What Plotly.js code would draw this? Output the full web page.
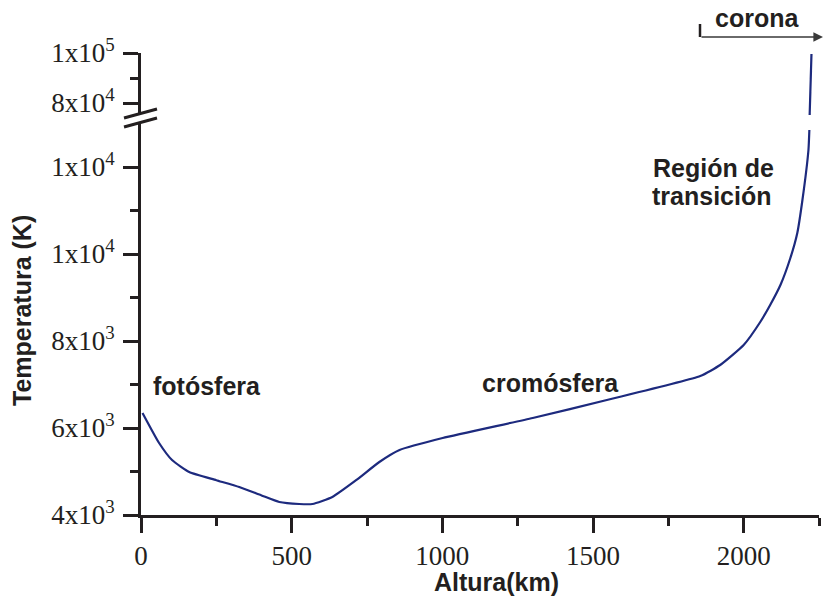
<!DOCTYPE html>
<html>
<head>
<meta charset="utf-8">
<script src="https://cdn.plot.ly/plotly-3.0.1.min.js"></script>
<style>
  html, body { margin: 0; padding: 0; background: #ffffff; }
  #chart { width: 825px; height: 598px; }
</style>
</head>
<body>
<div id="chart"></div>
<script>
// Temperature profile of the solar atmosphere vs height (km)
// Lower part of the curve (photosphere, chromosphere, start of transition region)
const alturaBaja = [5, 60, 103, 160, 250, 326, 400, 459, 525, 569, 635, 715, 791, 858, 1001, 1300, 1546, 1856, 1922, 2000, 2055, 2088, 2122, 2155, 2178, 2195, 2215, 2218];
const tempBaja   = [6345, 5655, 5264, 4989, 4800, 4644, 4450, 4299, 4253, 4253, 4414, 4805, 5218, 5494, 5770, 6230, 6644, 7195, 7448, 7908, 8437, 8828, 9287, 9908, 10483, 11241, 12391, 12851];

// Upper part of the curve, above the axis break (corona side)
const alturaAlta = [2219, 2221, 2225];
const tempAlta   = [75200, 87200, 99600];

// Axis ticks
const xTicks = [0, 500, 1000, 1500, 2000];
const xTickText = ['0', '500', '1000', '1500', '2000'];
const yTicksBaja = [4000, 6000, 8000, 10000, 12000];
const yTickTextBaja = ['4x10<sup>3</sup>', '6x10<sup>3</sup>', '8x10<sup>3</sup>', '1x10<sup>4</sup>', '1x10<sup>4</sup>'];
const yMinorBaja = [5000, 7000, 9000, 11000];
const yTicksAlta = [80000, 100000];
const yTickTextAlta = ['8x10<sup>4</sup>', '1x10<sup>5</sup>'];
const yMinorAlta = [90000];

// Labels
const etiquetaX = 'Altura(km)';
const etiquetaY = 'Temperatura (K)';
const regiones = ['fotósfera', 'cromósfera', 'Región de', 'transición', 'corona'];

// Plot-area geometry in pixels
const W = 825, H = 598;
const L = 141, R = 819, T = 53, B = 515;
const px = x => (x - L) / (R - L);
const py = y => (B - y) / (B - T);

const ink = '#231f20';
const curveColor = '#1d2a7e';
const serif = '"Liberation Serif", "Times New Roman", serif';
const sans = '"Liberation Sans", Arial, sans-serif';

const traces = [
  { x: alturaBaja, y: tempBaja, xaxis: 'x', yaxis: 'y', mode: 'lines',
    line: { color: curveColor, width: 2.2, shape: 'spline', smoothing: 0.5 }, hoverinfo: 'skip' },
  { x: alturaAlta, y: tempAlta, xaxis: 'x', yaxis: 'y2', mode: 'lines',
    line: { color: curveColor, width: 2.2 }, hoverinfo: 'skip' }
];

const axisCommon = {
  showgrid: false, zeroline: false,
  showline: true, linecolor: ink, linewidth: 3,
  ticks: 'outside', ticklen: 15, tickwidth: 3, tickcolor: ink,
  tickfont: { family: serif, size: 27, color: ink }
};

const layout = {
  width: W, height: H,
  margin: { l: L, r: W - R, t: T, b: H - B, pad: 0 },
  paper_bgcolor: '#ffffff', plot_bgcolor: '#ffffff',
  showlegend: false,
  xaxis: Object.assign({}, axisCommon, {
    range: [0, 2250], anchor: 'y',
    tickmode: 'array', tickvals: xTicks, ticktext: xTickText,
    ticklabelstandoff: 0,
    minor: { dtick: 250, tick0: 0, ticks: 'outside', ticklen: 8, tickwidth: 3, tickcolor: ink }
  }),
  yaxis: Object.assign({}, axisCommon, {
    range: [4000, 13000], domain: [0, py(123.5)], anchor: 'x',
    tickmode: 'array', tickvals: yTicksBaja, ticktext: yTickTextBaja,
    ticklabelstandoff: 3,
    minor: { tickmode: 'array', tickvals: yMinorBaja, ticks: 'outside', ticklen: 8, tickwidth: 3, tickcolor: ink }
  }),
  yaxis2: Object.assign({}, axisCommon, {
    range: [75200, 100000], domain: [py(115), 1], anchor: 'x',
    tickmode: 'array', tickvals: yTicksAlta, ticktext: yTickTextAlta,
    ticklabelstandoff: 3,
    minor: { tickmode: 'array', tickvals: yMinorAlta, ticks: 'outside', ticklen: 8, tickwidth: 3, tickcolor: ink }
  }),
  shapes: [
    // axis break marks
    { type: 'line', xref: 'paper', yref: 'paper', x0: px(124), y0: py(118), x1: px(157), y1: py(109),
      line: { color: ink, width: 3 } },
    { type: 'line', xref: 'paper', yref: 'paper', x0: px(124), y0: py(127), x1: px(157), y1: py(118),
      line: { color: ink, width: 3 } },
    // start mark of the corona arrow
    { type: 'line', xref: 'paper', yref: 'paper', x0: px(700), y0: py(24), x1: px(700), y1: py(37),
      line: { color: ink, width: 2.5 } }
  ],
  annotations: [
    { text: '<b>' + etiquetaY + '</b>', xref: 'paper', yref: 'paper', x: px(22), y: py(311),
      textangle: -90, showarrow: false, xanchor: 'center', yanchor: 'middle',
      font: { family: sans, size: 25, color: ink } },
    { text: '<b>' + etiquetaX + '</b>', xref: 'paper', yref: 'paper', x: px(496), y: py(582),
      showarrow: false, xanchor: 'center', yanchor: 'middle',
      font: { family: sans, size: 25, color: ink } },
    { text: '<b>' + regiones[0] + '</b>', xref: 'paper', yref: 'paper', x: px(207), y: py(386),
      showarrow: false, xanchor: 'center', yanchor: 'middle',
      font: { family: sans, size: 25, color: ink } },
    { text: '<b>' + regiones[1] + '</b>', xref: 'paper', yref: 'paper', x: px(550), y: py(383),
      showarrow: false, xanchor: 'center', yanchor: 'middle',
      font: { family: sans, size: 25, color: ink } },
    { text: '<b>' + regiones[2] + '</b>', xref: 'paper', yref: 'paper', x: px(713), y: py(168),
      showarrow: false, xanchor: 'center', yanchor: 'middle',
      font: { family: sans, size: 25, color: ink } },
    { text: '<b>' + regiones[3] + '</b>', xref: 'paper', yref: 'paper', x: px(711), y: py(196),
      showarrow: false, xanchor: 'center', yanchor: 'middle',
      font: { family: sans, size: 25, color: ink } },
    { text: '<b>' + regiones[4] + '</b>', xref: 'paper', yref: 'paper', x: px(757), y: py(18),
      showarrow: false, xanchor: 'center', yanchor: 'middle',
      font: { family: sans, size: 25, color: ink } },
    // corona arrow
    { text: '', xref: 'paper', yref: 'paper', x: px(823), y: py(37),
      showarrow: true, axref: 'pixel', ayref: 'pixel', ax: -123, ay: 0,
      arrowhead: 2, arrowsize: 1.2, arrowwidth: 1.6, arrowcolor: '#3a3a3a', standoff: 0 }
  ]
};

Plotly.newPlot('chart', traces, layout, { staticPlot: true, displayModeBar: false });
</script>
</body>
</html>
